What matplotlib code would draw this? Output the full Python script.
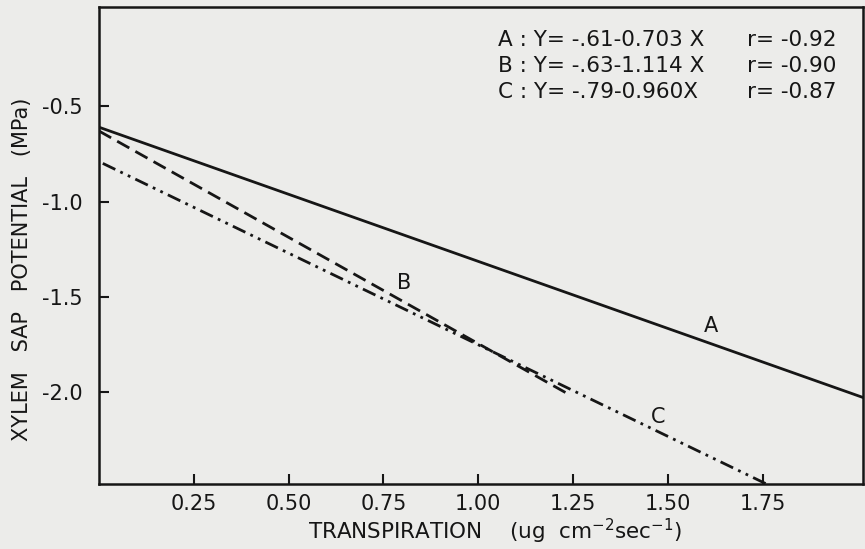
import numpy as np
import matplotlib

matplotlib.use("Agg")
import matplotlib.pyplot as plt

# regression lines: Y = a + b X
series = ["A", "B", "C"]
intercepts = [-0.61, -0.63, -0.79]
slopes = [-0.703, -1.114, -0.960]
r_values = [-0.92, -0.90, -0.87]
x_start = [0.0, 0.0, 0.01]
x_end = [2.02, 1.24, 1.76]
eq_labels = ["A : Y= -.61-0.703 X", "B : Y= -.63-1.114 X", "C : Y= -.79-0.960X"]
r_labels = ["r= -0.92", "r= -0.90", "r= -0.87"]
label_pos = [(1.615, -1.65), (0.805, -1.425), (1.475, -2.13)]

x_ticks = [0.25, 0.50, 0.75, 1.00, 1.25, 1.50, 1.75]
x_ticklabels = ["0.25", "0.50", "0.75", "1.00", "1.25", "1.50", "1.75"]
y_ticks = [-0.5, -1.0, -1.5, -2.0]
y_ticklabels = ["-0.5", "-1.0", "-1.5", "-2.0"]

styles = [
    dict(ls="-"),
    dict(ls=(0, (5, 2.5))),
    dict(ls=(0, (5, 2, 1, 2, 1, 2))),
]

plt.rcParams["font.family"] = ["DejaVu Sans"]
BG = "#ececea"
INK = "#161616"

fig = plt.figure(figsize=(8.65, 5.49), dpi=100, facecolor=BG)
ax = fig.add_axes([99 / 865, 1 - 484 / 549, 764 / 865, 477 / 549])
ax.set_facecolor(BG)

for i, name in enumerate(series):
    xs = np.array([x_start[i], x_end[i]])
    ys = intercepts[i] + slopes[i] * xs
    ax.plot(xs, ys, color=INK, lw=2.0, dash_capstyle="butt",
            solid_capstyle="butt", **styles[i])
    lx, ly = label_pos[i]
    ax.text(lx, ly, name, fontsize=15, ha="center", va="center", color=INK)

ax.set_xlim(0, 2.015)
ax.set_ylim(-2.48, 0.02)
ax.set_xticks(x_ticks, x_ticklabels)
ax.set_yticks(y_ticks, y_ticklabels)
ax.tick_params(direction="in", length=7, width=1.5, colors=INK,
               labelsize=15)
ax.tick_params(axis="x", pad=7)
ax.tick_params(axis="y", pad=12)
for sp in ax.spines.values():
    sp.set_linewidth(1.8)
    sp.set_color(INK)

# equation block, top right
rows_y = [40, 66, 92]
for eq, rv, yp in zip(eq_labels, r_labels, rows_y):
    fig.text(498 / 865, 1 - yp / 549, eq, fontsize=15.5, va="center",
             ha="left", color=INK)
    fig.text(747 / 865, 1 - yp / 549, rv, fontsize=15.5, va="center",
             ha="left", color=INK)

fig.text(22 / 865, 1 - 269 / 549, "XYLEM   SAP   POTENTIAL   (MPa)", rotation=90,
         fontsize=15, ha="center", va="center", color=INK)
fig.text(495 / 865, 1 - 531 / 549,
         r"TRANSPIRATION    (ug  cm$^{-2}$sec$^{-1}$)",
         fontsize=15.5, ha="center", va="center", color=INK)

fig.savefig("out.png", dpi=100, facecolor=BG)
